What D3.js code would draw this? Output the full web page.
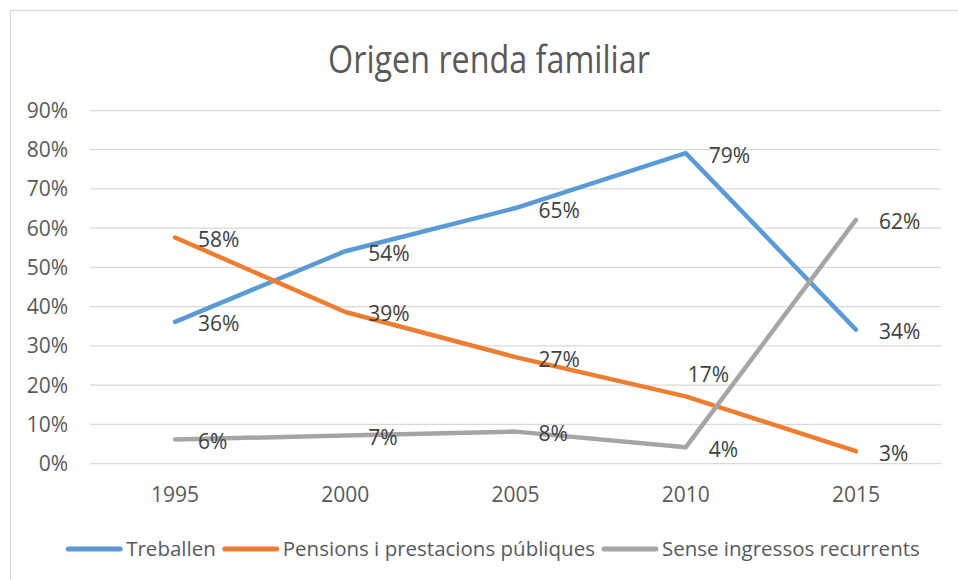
<!DOCTYPE html>
<html>
<head>
<meta charset="utf-8">
<script src="https://cdn.jsdelivr.net/npm/d3@7"></script>
<style>
  html, body { margin: 0; padding: 0; background: #fff; }
  svg { display: block; font-family: "Open Sans", "Noto Sans", sans-serif; }
</style>
</head>
<body>
<div id="line_chart"></div>
<script>
const years = ["1995", "2000", "2005", "2010", "2015"];
const treballen = [0.36, 0.54, 0.65, 0.79, 0.34];
const pensions = [0.575, 0.385, 0.27, 0.17, 0.03];
const senseIngressos = [0.06, 0.07, 0.08, 0.04, 0.62];
const yTicks = [0, 0.1, 0.2, 0.3, 0.4, 0.5, 0.6, 0.7, 0.8, 0.9];
const seriesNames = ["Treballen", "Pensions i prestacions públiques", "Sense ingressos recurrents"];
const seriesColors = ["#5b9bd5", "#ed7d31", "#a5a5a5"];

let draw = () => {
  let width = 958;
  let height = 580;
  let plot = { left: 90, right: 941, top: 110, bottom: 463 };

  let series = [treballen, pensions, senseIngressos].map((values, i) => ({
    name: seriesNames[i],
    color: seriesColors[i],
    points: values.map((v, j) => ({ year: years[j], value: v })),
  }));

  let svg = d3
    .select("#line_chart")
    .append("svg")
    .attr("width", width)
    .attr("height", height);

  // chart frame (runs off the right and bottom edge in the picture)
  svg
    .append("rect")
    .attr("x", 10.5)
    .attr("y", 10.5)
    .attr("width", 1000)
    .attr("height", 1000)
    .attr("fill", "none")
    .attr("stroke", "#d9d9d9")
    .attr("stroke-width", 1.25);

  svg
    .append("text")
    .attr("transform", "translate(489, 73) scale(0.85, 1)")
    .attr("text-anchor", "middle")
    .attr("font-size", 38)
    .attr("fill", "#595959")
    .text("Origen renda familiar");

  let xScale = d3
    .scaleBand()
    .domain(years)
    .range([plot.left, plot.right]);
  let xPos = (d) => xScale(d) + xScale.bandwidth() / 2;

  let yScale = d3
    .scaleLinear()
    .domain([0, 0.9])
    .range([plot.bottom, plot.top]);

  // y axis + gridlines
  svg
    .append("g")
    .attr("transform", `translate(${plot.left}, 0)`)
    .call(
      d3
        .axisLeft(yScale)
        .tickValues(yTicks)
        .tickSize(-(plot.right - plot.left))
        .tickPadding(22)
        .tickFormat(d3.format(".0%"))
    )
    .call((g) => g.select(".domain").remove())
    .call((g) =>
      g.selectAll(".tick line").attr("stroke", "#d9d9d9").attr("stroke-width", 1.25)
    )
    .call((g) =>
      g
        .selectAll(".tick text")
        .attr("dy", 7.5)
        .attr("font-size", 21)
        .attr("font-family", "Open Sans")
        .attr("fill", "#595959")
    );

  // x axis
  svg
    .append("g")
    .attr("transform", `translate(0, ${plot.bottom})`)
    .call(d3.axisBottom(xScale).tickSize(0).tickPadding(0))
    .call((g) => g.select(".domain").remove())
    .call((g) =>
      g
        .selectAll(".tick text")
        .attr("y", 39)
        .attr("dy", 0)
        .attr("font-size", 21)
        .attr("font-family", "Open Sans")
        .attr("fill", "#595959")
    );

  let line = d3
    .line()
    .x((d) => xPos(d.year))
    .y((d) => yScale(d.value));

  svg
    .selectAll(".series")
    .data(series)
    .enter()
    .append("path")
    .attr("class", "series")
    .attr("d", (d) => line(d.points))
    .attr("fill", "none")
    .attr("stroke", (d) => d.color)
    .attr("stroke-width", 4.5)
    .attr("stroke-linecap", "round")
    .attr("stroke-linejoin", "round");

  // data labels, to the right of each point; one moved up as in the original
  let labelShift = (s, d) =>
    s.name === seriesNames[1] && d.year === "2010" ? [-21, -24] : [0, 0];
  let pct = (v) => Math.round(+(v * 100).toFixed(6)) + "%";

  series.forEach((s) => {
    svg
      .append("g")
      .selectAll("text")
      .data(s.points)
      .enter()
      .append("text")
      .attr("x", (d) => xPos(d.year) + 23 + labelShift(s, d)[0])
      .attr("y", (d) => yScale(d.value) + 9.5 + labelShift(s, d)[1])
      .attr("font-size", 21)
      .attr("fill", "#404040")
      .text((d) => pct(d.value));
  });

  // legend
  let legend = svg.append("g");
  let swatch = 56;
  let cursor = 0;
  series.forEach((s) => {
    let item = legend.append("g").attr("transform", `translate(${cursor}, 0)`);
    item
      .append("line")
      .attr("x1", 2)
      .attr("x2", swatch - 2)
      .attr("y1", 549)
      .attr("y2", 549)
      .attr("stroke", s.color)
      .attr("stroke-width", 5)
      .attr("stroke-linecap", "round");
    let t = item
      .append("text")
      .attr("x", swatch + 4)
      .attr("y", 556)
      .attr("font-size", 20.5)
      .attr("fill", "#595959")
      .text(s.name);
    cursor += swatch + 4 + t.node().getComputedTextLength() + 7;
  });
  cursor -= 7;
  legend.attr("transform", `translate(${493 - cursor / 2}, 0)`);
};

draw();
</script>
</body>
</html>
